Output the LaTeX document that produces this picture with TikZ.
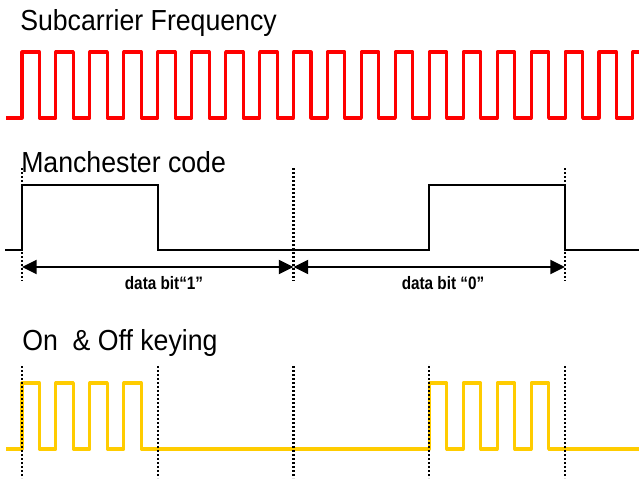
\documentclass[tikz,border=0pt]{standalone}
\usepackage{fontspec}
\usepackage{tikz}
\usetikzlibrary{arrows.meta}
\newfontfamily\ttlfont[FakeStretch=0.92]{Liberation Sans}
\newfontfamily\bitfont[FakeStretch=0.85]{Liberation Sans}
\definecolor{sub}{HTML}{FF0000}
\definecolor{ook}{HTML}{FFCC00}
\tikzset{
  ttl/.style={anchor=base west,inner sep=0pt,font=\ttlfont\fontsize{21.75pt}{26pt}\selectfont},
  bitlbl/.style={anchor=base,inner sep=0pt,font=\bitfont\bfseries\fontsize{13.5pt}{16pt}\selectfont},
  subwave/.style={draw=sub,line width=2.3pt,line join=round},
  ookwave/.style={draw=ook,line width=2.3pt,line join=round},
  mwave/.style={draw=black,line width=1.8pt},
  divider/.style={draw=black,line width=1.8pt,dash pattern=on 1.6pt off 1.4pt},
  bitspan/.style={<->,>={Triangle[length=11pt,width=10.5pt]},line width=1.5pt},
}

\begin{document}
\begin{tikzpicture}[x=0.75pt,y=-0.75pt]
\useasboundingbox (0,0) rectangle (639,486);
\foreach \i in {0,...,4} \coordinate (b\i) at ({22+135.75*\i},0);
\coordinate (hi) at (0,185);
\coordinate (lo) at (0,250);

\node[ttl] (subttl) at (20,30) {Subcarrier Frequency};
\draw[subwave] (6,118) foreach \k in {0,...,18}{ -- ({22+33.94*\k},118) -- ++(0,-66) -- ++(17.5,0) -- ++(0,66)};

\node[ttl] (mttl) at (21,172) {Manchester code};
\draw[mwave] (5,250) -- (b0 |- lo) -- (b0 |- hi) -- (b1 |- hi) -- (b1 |- lo)
  -- (b3 |- lo) -- (b3 |- hi) -- (b4 |- hi) -- (b4 |- lo) -- (639,250);
\foreach \i in {0,2,4} \draw[divider] (b\i |- 0,168) -- (b\i |- 0,281);

\coordinate (s0) at (b0 |- 0,267);
\coordinate (s1) at (b2 |- 0,267);
\coordinate (s2) at (b4 |- 0,267);
\draw[bitspan] (s0) -- (s1);
\draw[bitspan] (s1) -- (s2);
\node[bitlbl] (bit1) at (164,289) {data bit“1”};
\node[bitlbl] (bit0) at (443,289) {data bit “0”};

\node[ttl] (ookttl) at (22,350) {On~~\& Off keying};
\draw[ookwave] (6,449) foreach \k in {0,1,2,3,12,13,14,15}{ -- ({22+33.94*\k},449) -- ++(0,-66) -- ++(17.5,0) -- ++(0,66)} -- (639,449);
\foreach \i in {0,...,4} \draw[divider] (b\i |- 0,366) -- (b\i |- 0,478);
\end{tikzpicture}
\end{document}
